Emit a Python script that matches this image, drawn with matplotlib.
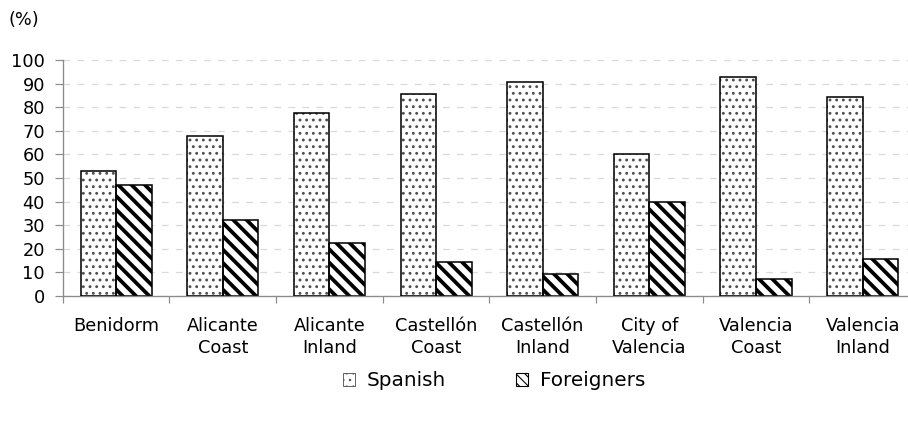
import matplotlib
matplotlib.use('Agg')
import matplotlib.pyplot as plt
from matplotlib.patches import Patch
import numpy as np

# data
regions = ['Benidorm', 'Alicante\nCoast', 'Alicante\nInland', 'Castellón\nCoast',
           'Castellón\nInland', 'City of\nValencia', 'Valencia\nCoast', 'Valencia\nInland']
spanish = [53, 68, 77.5, 85.5, 90.5, 60, 93, 84.5]
foreigners = [47, 32, 22.5, 14.5, 9.5, 40, 7, 15.5]
yticks = [0, 10, 20, 30, 40, 50, 60, 70, 80, 90, 100]

DPI = 80
W, H = 908, 423
plt.rcParams['font.family'] = 'DejaVu Sans'
plt.rcParams['font.size'] = 16

fig = plt.figure(figsize=(W / DPI, H / DPI), dpi=DPI)
# axes run past the right edge, like the original
ax = fig.add_axes([62.7 / W, (H - 296) / H, (916 - 62.7) / W, 236 / H])

x = np.arange(len(regions))
bw = 0.333
axis_grey = '#8c8c8c'

# Spanish: grey dots, black outline drawn on top
with plt.rc_context({'hatch.linewidth': 1.4}):
    ax.bar(x - bw / 2, spanish, bw, color='white', edgecolor='#505050',
           hatch='..', linewidth=0, zorder=2)
ax.bar(x - bw / 2, spanish, bw, fill=False, edgecolor='black', linewidth=1.4, zorder=3)

# Foreigners: thick black stripes
with plt.rc_context({'hatch.linewidth': 3.4}):
    ax.bar(x + bw / 2, foreigners, bw, color='white', edgecolor='black',
           hatch='\\\\', linewidth=1.4, zorder=2)

ax.set_xlim(-0.5, len(regions) - 0.5)
ax.set_ylim(0, 100)
ax.set_yticks(yticks)
ax.yaxis.grid(True, color='#d9d9d9', linestyle=(0, (5.5, 6)), linewidth=1.1, zorder=0)
ax.set_axisbelow(True)

ax.set_xticks(x)
ax.set_xticklabels(regions, linespacing=1.3)
ax.set_xticks(np.arange(len(regions) + 1) - 0.5, minor=True)
ax.tick_params(axis='x', which='major', length=0, pad=19)
ax.tick_params(axis='x', which='minor', length=6, color=axis_grey, width=1.1)
ax.tick_params(axis='y', length=7, color=axis_grey, width=1.1, pad=9)

for s in ['top', 'right']:
    ax.spines[s].set_visible(False)
for s in ['left', 'bottom']:
    ax.spines[s].set_color(axis_grey)
    ax.spines[s].set_linewidth(1.2)

fig.text(8 / W, 1 - 20 / H, '(%)', ha='left', va='center')

with plt.rc_context({'hatch.linewidth': 1.0}):
    h1 = Patch(facecolor='white', edgecolor='#555555', hatch='..', linewidth=0.8)
with plt.rc_context({'hatch.linewidth': 3.0}):
    h2 = Patch(facecolor='white', edgecolor='black', hatch='\\\\\\', linewidth=1.0)
fig.legend([h1, h2], ['Spanish', 'Foreigners'], loc='center', fontsize=18,
           bbox_to_anchor=(494 / W, 1 - 381 / H), ncol=2, frameon=False,
           handlelength=0.6, handleheight=0.6, handletextpad=0.6, columnspacing=3.5)

fig.savefig('out.png', dpi=DPI)
